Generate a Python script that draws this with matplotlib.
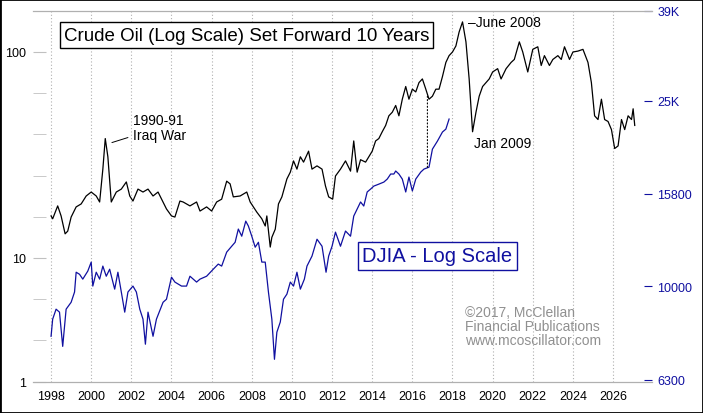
import numpy as np
import matplotlib.pyplot as plt
from matplotlib.patches import ConnectionPatch
from matplotlib.ticker import FixedLocator, NullFormatter

plt.rcParams['font.family'] = ['Liberation Sans', 'DejaVu Sans']

# crude oil, plotted at date + 10 years
oil_years = [1998.0, 1998.08, 1998.33, 1998.5, 1998.7, 1998.83, 1999.0, 1999.25, 1999.5, 1999.75,
             2000.0, 2000.25, 2000.42, 2000.58, 2000.7, 2000.83, 2001.0, 2001.25, 2001.5, 2001.75,
             2001.92, 2002.08, 2002.33, 2002.58, 2002.83, 2003.08, 2003.33, 2003.58, 2003.75, 2004.0,
             2004.17, 2004.42, 2004.58, 2004.92, 2005.25, 2005.42, 2005.75, 2006.0, 2006.25, 2006.5,
             2006.75, 2006.92, 2007.08, 2007.42, 2007.75, 2007.92, 2008.25, 2008.5, 2008.67, 2008.75,
             2008.92, 2009.0, 2009.17, 2009.33, 2009.5, 2009.75, 2009.92, 2010.08, 2010.25, 2010.42,
             2010.58, 2010.83, 2011.0, 2011.25, 2011.5, 2011.67, 2011.83, 2012.03, 2012.17, 2012.42,
             2012.67, 2012.92,
             2013.08, 2013.25, 2013.42, 2013.67, 2013.83, 2014.0, 2014.17, 2014.33, 2014.5, 2014.67,
             2014.83, 2015.0, 2015.17, 2015.33, 2015.5, 2015.67, 2015.83, 2016.0, 2016.17, 2016.33,
             2016.5, 2016.67, 2016.83, 2017.0, 2017.17, 2017.33, 2017.5, 2017.67, 2017.83, 2018.0,
             2018.17, 2018.33, 2018.5, 2018.67, 2018.83, 2019.0, 2019.17, 2019.33, 2019.5, 2019.67,
             2019.83, 2020.0, 2020.25, 2020.42, 2020.67, 2020.92, 2021.08, 2021.33, 2021.5, 2021.75,
             2022.0, 2022.25, 2022.42, 2022.58, 2022.83, 2023.0, 2023.25, 2023.42, 2023.58, 2023.83,
             2024.0, 2024.25, 2024.5, 2024.75, 2024.92, 2025.08, 2025.25, 2025.42, 2025.58, 2025.75,
             2025.92, 2026.08, 2026.25, 2026.42, 2026.58, 2026.75, 2026.92, 2027.0, 2027.08]
oil_price = [16.0, 15.5, 17.9, 16.0, 13.1, 13.5, 15.8, 17.7, 18.3, 20.0,
             20.9, 20.0, 18.7, 27, 38, 31, 18.7, 20.9, 21.6, 23.4,
             20.0, 18.9, 21.6, 20.9, 21.6, 20.0, 20.9, 18.7, 17.3, 16.0,
             15.8, 18.9, 18.7, 17.9, 18.7, 16.9, 17.7, 16.9, 18.7, 19.3,
             23.6, 22.9, 19.8, 20.0, 20.9, 18.7, 16.7, 15.5, 14.3, 16.0,
             11.3, 12.6, 13.8, 18.3, 19.8, 24.2, 26.1, 29.6, 27, 31,
             29.2, 33, 27, 28, 27, 22.4, 19.8, 19.3, 25, 27,
             29.6, 26.4,
             37, 26.1, 30, 29.2, 31, 33, 37, 38, 41, 44,
             49, 51, 55, 49, 59, 68, 59, 66, 64, 71,
             74, 66, 59, 61, 66, 66, 76, 89, 96, 100,
             107, 125, 140, 112, 74, 41, 51, 61, 68, 71,
             74, 80, 83, 74, 83, 89, 92, 112, 100, 80,
             103, 106, 86, 96, 86, 92, 96, 92, 106, 92,
             100, 101, 103, 89, 71, 49, 47, 59, 47, 46,
             42, 34, 35, 47, 42, 49, 47, 53, 44]

dj_years = [1998.0, 1998.08, 1998.25, 1998.42, 1998.58, 1998.75, 1999.0, 1999.17, 1999.25, 1999.42,
            1999.58, 1999.83, 2000.0, 2000.08, 2000.25, 2000.42, 2000.58, 2000.75, 2000.92, 2001.08,
            2001.17, 2001.33, 2001.5, 2001.67, 2001.83, 2002.08, 2002.25, 2002.42, 2002.58, 2002.7,
            2002.83, 2003.08, 2003.25, 2003.58, 2003.75, 2004.0, 2004.17, 2004.5, 2004.75, 2004.92,
            2005.25, 2005.42, 2005.75, 2006.08, 2006.33, 2006.5, 2006.75, 2007.0, 2007.17, 2007.33,
            2007.5, 2007.7, 2007.83, 2008.0, 2008.17, 2008.33, 2008.5, 2008.67, 2008.83, 2009.0,
            2009.13, 2009.25, 2009.42, 2009.58, 2009.75, 2009.92, 2010.08, 2010.25, 2010.42, 2010.62,
            2010.75, 2011.0, 2011.25, 2011.5, 2011.7, 2011.83, 2012.0, 2012.17, 2012.42, 2012.67,
            2012.92,
            2013.08, 2013.25, 2013.42, 2013.58, 2013.75, 2013.92, 2014.08, 2014.33, 2014.58, 2014.75,
            2014.92, 2015.08, 2015.17, 2015.33, 2015.5, 2015.67, 2015.83, 2016.0, 2016.17, 2016.42,
            2016.58, 2016.83, 2017.0, 2017.25, 2017.5, 2017.67, 2017.83]
djia = [7810, 8500, 8930, 8800, 7430, 8930, 9240, 9720, 10720, 10610,
        10360, 10780, 11270, 10010, 10720, 10360, 11050, 10510, 10880, 10210,
        9860, 10720, 9720, 8800, 9720, 10010, 9720, 8930, 8500, 7510,
        8800, 7810, 8500, 9240, 9380, 10460, 10210, 10010, 10010, 10510,
        10210, 10360, 10510, 10880, 11160, 11050, 11840, 12190, 12430, 13270,
        12810, 13800, 13470, 12810, 12130, 12430, 11270, 11270, 9720, 8500,
        6970, 7970, 8380, 9380, 9620, 10210, 10010, 10720, 9860, 10360,
        11050, 11610, 12620, 12190, 10720, 11610, 12190, 13070, 12190, 13140,
        12810,
        14150, 14650, 15170, 14870, 15940, 16170, 16410, 16570, 16740, 16990,
        17420, 17420, 17680, 17420, 16990, 15940, 17160, 16020, 16990, 17590,
        17850, 18020, 19700, 20500, 21440, 21750, 22860]

year_ticks = list(range(1998, 2027, 2))
dj_ticks = [6300, 10000, 15800, 25000, 39000]
dj_labels = ['6300', '10000', '15800', '25K', '39K']
oil_lo, oil_hi = 10 ** 0.398, 10 ** 2.199

fig = plt.figure(figsize=(7.03, 4.14), dpi=100)
ax = fig.add_axes([33 / 703, 31 / 414, 619 / 703, 371 / 414])
ax2 = ax.twinx()

ax.plot(oil_years, oil_price, color='black', lw=0.9)
ax2.plot(dj_years, djia, color='#1010a0', lw=0.9)

ax.set_yscale('log')
ax.set_ylim(oil_lo, oil_hi)
ax.set_xlim(1997.1, 2027.94)
ax.yaxis.set_major_locator(FixedLocator([oil_lo, 10, 100]))
ax.set_yticklabels(['1', '10', '100'])
ax.yaxis.set_minor_locator(FixedLocator(10 ** np.arange(0.6, 2.2, 0.2)))
ax.yaxis.set_minor_formatter(NullFormatter())
ax.tick_params(axis='y', which='both', direction='in', length=9, color='#c0c0c0',
               labelsize=9, pad=5)
ax.set_xticks(year_ticks)
ax.tick_params(axis='x', length=0, labelsize=9, pad=6)
ax.grid(axis='x', color='#b0b0b0', ls=(0, (1, 2)), lw=0.8)

ax2.set_yscale('log')
ax2.set_ylim(6230, 39000)
ax2.yaxis.set_major_locator(FixedLocator(dj_ticks))
ax2.set_yticklabels(dj_labels)
ax2.yaxis.set_minor_locator(FixedLocator([]))
ax2.tick_params(axis='y', direction='in', length=6, color='#1010a0',
                labelcolor='#1010a0', labelsize=9, pad=4)
for a in (ax, ax2):
    for s in ('left', 'right'):
        a.spines[s].set_visible(False)
    a.spines['top'].set_color('#b0b0b0')
    a.spines['bottom'].set_color('#b0b0b0')

# dotted link at late 2016
link = ConnectionPatch(xyA=(2016.75, 61), coordsA=ax.transData,
                       xyB=(2016.75, 17900), coordsB=ax2.transData,
                       color='black', ls=(0, (1, 2)), lw=0.8)
fig.add_artist(link)

ax.text(0.05, 0.935, 'Crude Oil (Log Scale) Set Forward 10 Years', transform=ax.transAxes,
        fontsize=13.5, va='center', bbox=dict(facecolor='white', edgecolor='black', lw=1, pad=3))
ax.text(0.532, 0.34, 'DJIA - Log Scale', transform=ax.transAxes, color='#1010a0',
        fontsize=14.5, va='center', bbox=dict(facecolor='white', edgecolor='#1010a0', lw=1, pad=3))

ax.annotate('1990-91\nIraq War', xy=(2000.9, 36), xytext=(2002.1, 43), fontsize=10,
            va='center', linespacing=1.1, arrowprops=dict(arrowstyle='-', lw=0.7))
ax.text(2018.75, 140, '\u2013June 2008', fontsize=10, va='center')
ax.text(2019.05, 36, 'Jan 2009', fontsize=10, va='center')
ax.text(2018.6, 4.7, '\u00a92017, McClellan\nFinancial Publications\nwww.mcoscillator.com',
        fontsize=10, color='#909090', va='center', linespacing=1.0)

fig.patches.append(plt.Rectangle((0, 0), 1, 1, transform=fig.transFigure, fill=False,
                                 edgecolor='black', lw=2))
fig.savefig('out.png', dpi=100)
